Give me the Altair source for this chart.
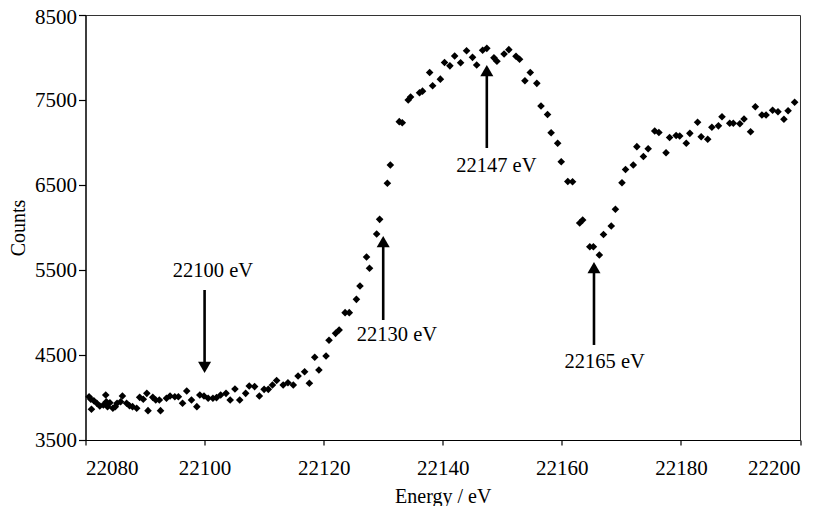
import altair as alt
import pandas as pd

# Spectrum (energy in eV, counts)
energy = [
    22080.6, 22080.9, 22081.0, 22081.4, 22081.9, 22082.4, 22083.0, 22083.4, 22083.5, 22083.7,
    22084.1, 22084.6, 22085.0, 22085.3, 22085.9, 22086.2, 22086.9, 22087.4, 22087.9, 22088.6,
    22089.1, 22089.7, 22090.3, 22090.5, 22091.3, 22091.8, 22092.4, 22092.6, 22093.6, 22094.2,
    22095.0, 22095.6, 22096.3, 22097.0, 22097.8, 22098.7, 22099.2, 22099.9, 22100.6, 22101.4,
    22102.0, 22102.7, 22103.6, 22104.3, 22105.1, 22105.9, 22106.9, 22107.5, 22108.4, 22109.2,
    22110.0, 22110.7, 22111.4, 22112.1, 22113.2, 22114.0, 22114.9, 22115.7, 22116.8, 22117.6,
    22118.5, 22119.2, 22120.4, 22120.9, 22122.0, 22122.6, 22123.6, 22124.3, 22125.5, 22126.1,
    22127.2, 22127.7, 22128.9, 22129.4, 22130.7, 22131.2, 22132.7, 22133.2, 22134.2, 22134.6,
    22136.1, 22136.6, 22137.8, 22138.3, 22139.6, 22140.3, 22141.2, 22142.0, 22143.0, 22144.0,
    22145.0, 22145.7, 22146.7, 22147.4, 22148.6, 22149.1, 22150.3, 22151.1, 22152.3, 22152.9,
    22153.8, 22154.7, 22155.8, 22156.5, 22157.6, 22158.2, 22159.3, 22159.9, 22161.0, 22161.8,
    22163.0, 22163.5, 22164.7, 22165.3, 22166.3, 22167.0, 22168.3, 22169.0, 22170.1, 22170.7,
    22172.0, 22172.6, 22173.7, 22174.5, 22175.6, 22176.3, 22177.5, 22178.1, 22179.2, 22179.8,
    22180.9, 22181.5, 22182.8, 22183.4, 22184.5, 22185.2, 22186.3, 22186.9, 22188.2, 22188.8,
    22189.9, 22190.6, 22191.7, 22192.5, 22193.6, 22194.3, 22195.4, 22196.3, 22197.3, 22198.0,
    22199.1,
]
counts = [
    4009, 3979, 3861, 3962, 3932, 3900, 3912, 4029, 3950, 3892,
    3939, 3873, 3892, 3932, 3950, 4018, 3932, 3903, 3892, 3873,
    4002, 3979, 4049, 3845, 4002, 3971, 3971, 3845, 3991, 4018,
    4009, 4009, 3932, 4076, 3971, 3892, 4029, 4018, 3991, 3991,
    3998, 4029, 4049, 3971, 4100, 3971, 4049, 4135, 4128, 4018,
    4096, 4096, 4147, 4200, 4147, 4174, 4147, 4253, 4303, 4167,
    4473, 4323, 4488, 4673, 4755, 4794, 4998, 4998, 5155, 5312,
    5653, 5520, 5924, 6096, 6520, 6735, 7245, 7233, 7500, 7535,
    7586, 7604, 7824, 7667, 7745, 7941, 7902, 8018, 7939, 8080,
    8002, 7912, 8085, 8108, 7996, 7956, 8041, 8092, 8014, 7979,
    7727, 7824, 7696, 7429, 7329, 7115, 6991, 6774, 6541, 6539,
    6053, 6088, 5774, 5774, 5676, 5918, 6018, 6215, 6527, 6682,
    6735, 6951, 6835, 6927, 7135, 7118, 6880, 7059, 7082, 7076,
    6991, 7108, 7238, 7068, 7038, 7179, 7196, 7303, 7226, 7226,
    7221, 7276, 7127, 7421, 7324, 7324, 7379, 7362, 7273, 7374,
    7473,
]

# Annotations
arrow_energy = [22100, 22130, 22147.4, 22165.4]
arrow_tip = [4288, 5900, 7912, 5594]
arrow_tail = [5265, 4912, 6935, 4618]
arrow_dir = ["down", "up", "up", "up"]
label_text = ["22100 eV", "22130 eV", "22147 eV", "22165 eV"]
label_energy = [22101.4, 22132.3, 22149.0, 22167.2]
label_counts = [5488, 4735, 6723, 4418]

x_ticks = [22080, 22100, 22120, 22140, 22160, 22180, 22200]
y_ticks = [3500, 4500, 5500, 6500, 7500, 8500]

FONT = "Liberation Serif"
HEAD_LEN = 110  # shaft stops under the arrow head (in counts)

spec = pd.DataFrame({"x": energy, "y": counts})
arrows = pd.DataFrame({"x": arrow_energy, "tip": arrow_tip, "tail": arrow_tail, "dir": arrow_dir})
arrows["y"] = arrows["tip"]
arrows["base"] = [t + HEAD_LEN if d == "down" else t - HEAD_LEN for t, d in zip(arrow_tip, arrow_dir)]
labels = pd.DataFrame({"x": label_energy, "y": label_counts, "text": label_text})

xscale = alt.Scale(domain=[22080, 22200], nice=False, zero=False)
yscale = alt.Scale(domain=[3500, 8500], nice=False, zero=False)
xaxis = alt.Axis(values=x_ticks, format="d", title="Energy / eV", grid=False,
                 tickSize=5, labelPadding=12, titlePadding=8)
yaxis = alt.Axis(values=y_ticks, format="d", title="Counts", grid=False,
                 tickSize=7, labelPadding=2, titlePadding=6,
                 labelOffset={"condition": {"test": "datum.value == 8500", "value": 2}, "value": 0})

X = alt.X("x:Q", scale=xscale, axis=xaxis)
Y = alt.Y("y:Q", scale=yscale, axis=yaxis)

points = alt.Chart(spec).mark_point(shape="diamond", filled=True, color="black",
                                    size=58, opacity=1).encode(x=X, y=Y)

shafts = alt.Chart(arrows).mark_rule(color="black", strokeWidth=2.6).encode(
    x=X, y=alt.Y("tail:Q", scale=yscale, axis=yaxis), y2="base:Q")

heads_up = alt.Chart(arrows).transform_filter(alt.datum.dir == "up").mark_point(
    shape="triangle-up", filled=True, color="black", size=170, opacity=1, yOffset=5.6
).encode(x=X, y=Y)

heads_down = alt.Chart(arrows).transform_filter(alt.datum.dir == "down").mark_point(
    shape="triangle-down", filled=True, color="black", size=170, opacity=1, yOffset=-5.6
).encode(x=X, y=Y)

texts = alt.Chart(labels).mark_text(font=FONT, fontSize=20.5, color="black",
                                    align="center", baseline="middle").encode(
    x=X, y=Y, text="text:N")

chart = alt.layer(points, shafts, heads_up, heads_down, texts).properties(
    width=714.5, height=425,
    autosize=alt.AutoSizeParams(type="none"),
    padding={"left": 77.5, "top": 7, "right": 21, "bottom": 66},
    background="white",
).configure_view(stroke="#333333", strokeWidth=1).configure_axis(
    labelFont=FONT, titleFont=FONT, labelFontSize=21, titleFontSize=20,
    titleFontWeight="normal", labelColor="black", titleColor="black",
    domainColor="black", tickColor="black", domainWidth=1.2, tickWidth=1.2,
)

chart.save("out.html", embed_options={"renderer": "svg", "actions": False})
